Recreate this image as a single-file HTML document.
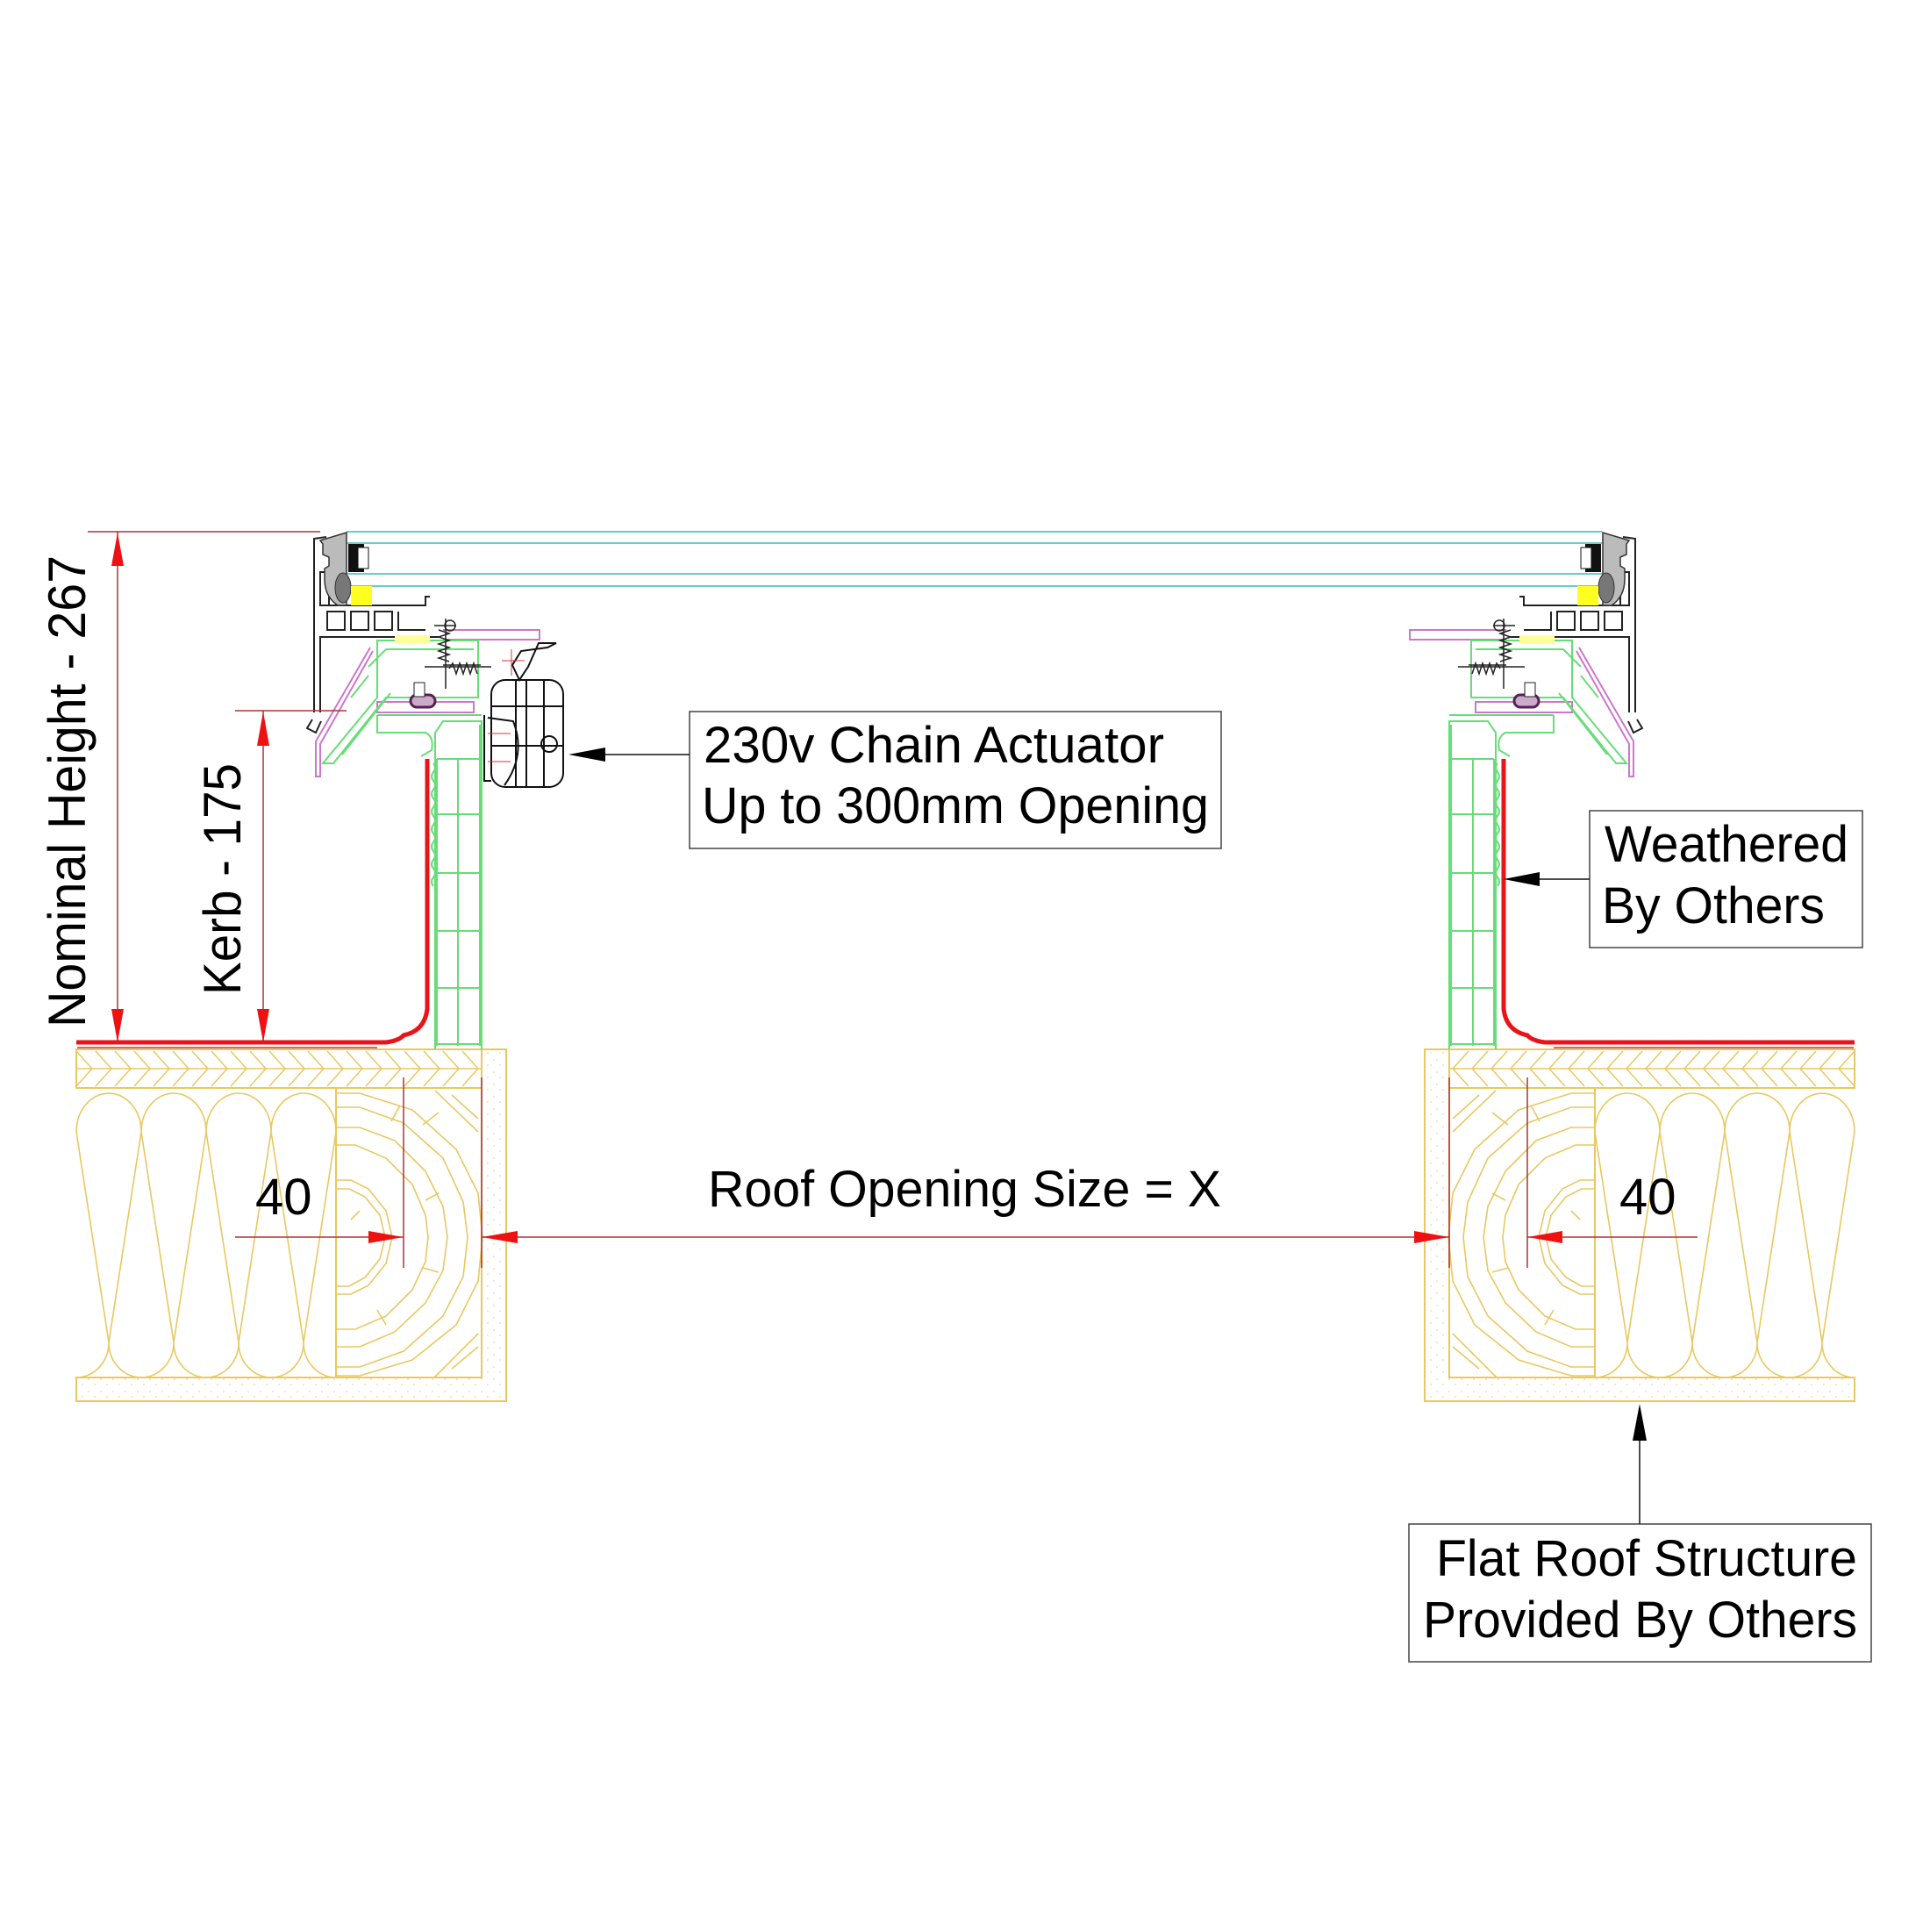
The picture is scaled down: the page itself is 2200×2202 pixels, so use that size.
<!DOCTYPE html>
<html><head><meta charset="utf-8"><style>html,body{margin:0;padding:0;background:#fff}svg{display:block}</style></head>
<body>
<svg width="2200" height="2202" viewBox="0 0 2200 2202" xmlns="http://www.w3.org/2000/svg" font-family="Liberation Sans, sans-serif">
<defs>
<pattern id="dots" width="14" height="14" patternUnits="userSpaceOnUse">
<circle cx="3" cy="4" r="0.8" fill="#e0cc88"/><circle cx="10" cy="10" r="0.8" fill="#e0cc88"/>
</pattern>
<g id="struct">
  <path d="M87 1570 H549 V1196 H577 V1597 H87 Z" fill="url(#dots)" stroke="#e8c860" stroke-width="2"/>
  <rect x="87" y="1196" width="462" height="44" fill="none" stroke="#e8c860" stroke-width="2"/>
  <line x1="87" y1="1218" x2="549" y2="1218" stroke="#e8c860" stroke-width="1.5"/>
  <path d="M87 1198 l18 20 l-18 20 M109 1198 l18 20 l-18 20 M131 1198 l18 20 l-18 20 M153 1198 l18 20 l-18 20 M175 1198 l18 20 l-18 20 M197 1198 l18 20 l-18 20 M219 1198 l18 20 l-18 20 M241 1198 l18 20 l-18 20 M263 1198 l18 20 l-18 20 M285 1198 l18 20 l-18 20 M307 1198 l18 20 l-18 20 M329 1198 l18 20 l-18 20 M351 1198 l18 20 l-18 20 M373 1198 l18 20 l-18 20 M395 1198 l18 20 l-18 20 M417 1198 l18 20 l-18 20 M439 1198 l18 20 l-18 20 M461 1198 l18 20 l-18 20 M483 1198 l18 20 l-18 20 M505 1198 l18 20 l-18 20 M527 1198 l18 20 l-18 20" fill="none" stroke="#e8c860" stroke-width="1.5"/>
  <rect x="383" y="1240" width="166" height="330" fill="none" stroke="#e8c860" stroke-width="2"/>
  <g fill="none" stroke="#e8c860" stroke-width="1.6">
    <path d="M383 1246 H410 L470 1265 L520 1310 L545 1360 L550 1410 L545 1460 L520 1510 L470 1550 L410 1568 H383"/>
    <path d="M383 1262 H410 L460 1280 L505 1320 L528 1370 L533 1410 L528 1455 L505 1500 L460 1540 L410 1558 H383"/>
    <path d="M383 1285 H410 L450 1300 L485 1335 L505 1375 L510 1410 L505 1448 L485 1485 L450 1518 L410 1535 H383"/>
    <path d="M383 1305 H405 L440 1320 L470 1350 L485 1385 L488 1410 L485 1438 L470 1470 L440 1500 L405 1515 H383"/>
    <path d="M383 1345 H400 L420 1355 L440 1380 L447 1410 L440 1440 L420 1465 L400 1475 H383"/>
    <path d="M383 1355 H398 L416 1364 L433 1385 L439 1410 L433 1435 L416 1456 L398 1466 H383"/>
    <path d="M496 1243 L545 1290 M515 1248 L545 1275 M495 1570 L545 1520 M515 1560 L545 1535"/>
    <path d="M446 1278 L456 1260 M482 1282 L500 1268 M400 1390 L410 1380 M430 1493 L440 1510 M482 1445 L500 1450 M485 1368 L500 1360"/>
  </g>
  <!-- insulation -->
  <g fill="none" stroke="#e8c860" stroke-width="1.6">
    <path d="M87 1290 A37 44 0 0 1 161 1290 A37 44 0 0 1 235 1290 A37 44 0 0 1 309 1290 A37 44 0 0 1 383 1290"/>
    <path d="M87 1570 A37 40 0 0 0 124 1530 A37 40 0 0 0 198 1530 A37 40 0 0 0 272 1530 A37 40 0 0 0 346 1530 A37 40 0 0 0 383 1570"/>
    <path d="M87 1290 L124 1530 L161 1290 L198 1530 L235 1290 L272 1530 L309 1290 L346 1530 L383 1290"/>
  </g>
  <!-- kerb -->
  <g fill="none" stroke="#66dd77" stroke-width="2">
    <path d="M496 1196 V835 L505 822 H549 V1196"/>
    <path d="M498 1192 V865 M547 1192 V826"/>
    <path d="M522 865 V1192"/>
    <path d="M498 865 H547 M498 928 H547 M498 995 H547 M498 1061 H547 M498 1126 H547 M498 1190 H547"/>
    <path d="M494 870 q4 5 0 10 q-4 5 0 10 q4 5 0 10 q-4 5 0 10 q4 5 0 10 q-4 5 0 10 q4 5 0 10 q-4 5 0 10 q4 5 0 10 q-4 5 0 10 q4 5 0 10 q-4 5 0 10 q4 5 0 10 q-4 5 0 10"/>
    <path d="M430 815 H549 M430 815 V835 H485 Q495 840 492 855 L480 862"/>
  </g>
  <path d="M87 1188 H440 Q455 1186 460 1180 Q484 1175 487 1150 V865" fill="none" stroke="#e8141a" stroke-width="5"/>
  <path d="M88 1194 H430" stroke="#b04040" stroke-width="1.5"/>
</g>
<g id="frame">
  <g fill="none" stroke="#222" stroke-width="2">
    <path d="M358 812 V614 L372 612 M365 812 V726 H500 M372 690 H485 V680 H490 M373 697 H393 V718 H373 Z M400 697 H420 V718 H400 Z M427 697 H447 V718 H427 Z M454 697 V718 H485"/>
    <path d="M356 820 L350 830 L360 835 L366 822"/>
    <path d="M365 652 H375 V690 H365 Z"/>
  </g>
  <path d="M365 616 L395 607 V690 H385 Q370 680 370 660 V648 L375 645 V635 L368 632 V620 Z" fill="#bbb" stroke="#333" stroke-width="1.5"/>
  <rect x="397" y="620" width="18" height="32" fill="#111"/>
  <rect x="408" y="624" width="12" height="24" fill="#fff" stroke="#111"/>
  <ellipse cx="391" cy="670" rx="9" ry="17" fill="#777" stroke="#333"/>
  <rect x="400" y="668" width="24" height="22" fill="#ffff22"/>
  <path d="M422 738 L360 845 V885 H365 V848 L425 742" fill="none" stroke="#cc77cc" stroke-width="2"/>
  <path d="M505 718 H615 V729 H505" fill="none" stroke="#cc77cc" stroke-width="2"/>
  <path d="M430 800 H540 V812 H430 Z" fill="none" stroke="#cc77cc" stroke-width="2"/>
  <g fill="none" stroke="#66dd77" stroke-width="2">
    <path d="M430 730 H545 V795 H440 L380 870 H368 L430 795 Z" />
    <path d="M440 740 H540 M390 860 L445 790 M400 795 L420 770 M420 760 L440 740"/>
  </g>
  <rect x="450" y="724" width="40" height="10" fill="#ffff99"/>
  <g stroke="#222" stroke-width="1.5" fill="none">
    <path d="M508 705 V785 M495 713 H520 M484 760 H560 M505 758 H548"/>
    <path d="M500 718 l12 4 l-12 4 l12 4 l-12 4 l12 4 l-12 4 l12 4 l-12 4 l12 4"/>
    <path d="M512 762 l4 -6 l4 12 l4 -12 l4 12 l4 -12 l4 12 l4 -12 l4 12"/>
    <circle cx="513" cy="713" r="6"/>
  </g>
  <rect x="468" y="792" width="28" height="14" rx="7" fill="#ccaacc" stroke="#552255" stroke-width="3"/>
  <rect x="472" y="778" width="12" height="16" fill="#fff" stroke="#222"/>
</g>
</defs>

<rect width="2200" height="2202" fill="#fff"/>

<g stroke="#66cccc" stroke-width="2">
  <line x1="395" y1="606" x2="1826" y2="606"/>
  <line x1="395" y1="619" x2="1826" y2="619"/>
  <line x1="395" y1="654" x2="1826" y2="654"/>
  <line x1="395" y1="668" x2="1826" y2="668"/>
</g>

<use href="#struct"/>
<use href="#struct" transform="translate(2201,0) scale(-1,1)"/>
<use href="#frame"/>
<use href="#frame" transform="translate(2222,0) scale(-1,1)"/>

<!-- actuator -->
<g fill="none" stroke="#111" stroke-width="2">
  <rect x="560" y="775" width="82" height="122" rx="16"/>
  <path d="M560 805 H642 M560 850 H642 M600 775 V897 M588 775 V897 M620 775 V897"/>
  <path d="M556 818 L585 822 Q600 860 575 895 M552 815 V890 H560"/>
  <circle cx="626" cy="848" r="9"/>
  <path d="M592 775 L584 758 L594 742 L624 738 L634 733 H614 L602 760 Z"/>
</g>
<path d="M572 753 H598 M583 740 V770 M556 836 H582 M556 868 H582" stroke="#dd3333" stroke-width="1"/>

<g stroke="#b03030" stroke-width="1.5">
  <line x1="100" y1="606" x2="365" y2="606"/>
  <line x1="134" y1="606" x2="134" y2="1190"/>
  <line x1="268" y1="810" x2="395" y2="810"/>
  <line x1="300" y1="810" x2="300" y2="1190"/>
</g>
<g fill="#ee1111">
  <path d="M134 607 L127 645 H141 Z"/><path d="M134 1188 L127 1150 H141 Z"/>
  <path d="M300 811 L293 850 H307 Z"/><path d="M300 1188 L293 1150 H307 Z"/>
</g>
<text transform="translate(97,1171) rotate(-90)" font-size="60" textLength="538" lengthAdjust="spacingAndGlyphs" fill="#000">Nominal Height - 267</text>
<text transform="translate(274,1134) rotate(-90)" font-size="60" textLength="264" lengthAdjust="spacingAndGlyphs" fill="#000">Kerb - 175</text>

<g stroke="#b03030" stroke-width="1.5">
  <line x1="549" y1="1410" x2="1652" y2="1410"/>
  <line x1="268" y1="1410" x2="460" y2="1410"/>
  <line x1="1741" y1="1410" x2="1935" y2="1410"/>
  <line x1="460" y1="1228" x2="460" y2="1445"/>
  <line x1="549" y1="1228" x2="549" y2="1445"/>
  <line x1="1652" y1="1228" x2="1652" y2="1445"/>
  <line x1="1741" y1="1228" x2="1741" y2="1445"/>
</g>
<g fill="#ee1111">
  <path d="M460 1410 L420 1403 V1417 Z"/>
  <path d="M549 1410 L590 1403 V1417 Z"/>
  <path d="M1652 1410 L1612 1403 V1417 Z"/>
  <path d="M1741 1410 L1781 1403 V1417 Z"/>
</g>
<text x="807" y="1375" font-size="58" textLength="585" lengthAdjust="spacingAndGlyphs">Roof Opening Size = X</text>
<text x="291" y="1384" font-size="58">40</text>
<text x="1846" y="1384" font-size="58">40</text>

<rect x="786" y="811" width="606" height="156" fill="none" stroke="#444" stroke-width="1.5"/>
<text x="802" y="869" font-size="58" textLength="525" lengthAdjust="spacingAndGlyphs">230v Chain Actuator</text>
<text x="800" y="938" font-size="58" textLength="578" lengthAdjust="spacingAndGlyphs">Up to 300mm Opening</text>
<line x1="786" y1="860" x2="690" y2="860" stroke="#111" stroke-width="1.5"/>
<path d="M648 860 L690 852 V868 Z" fill="#000"/>

<rect x="1812" y="924" width="311" height="156" fill="none" stroke="#444" stroke-width="1.5"/>
<text x="1829" y="982" font-size="58" textLength="278" lengthAdjust="spacingAndGlyphs">Weathered</text>
<text x="1826" y="1052" font-size="58" textLength="254" lengthAdjust="spacingAndGlyphs">By Others</text>
<line x1="1812" y1="1002" x2="1750" y2="1002" stroke="#111" stroke-width="1.5"/>
<path d="M1714 1002 L1755 994 V1010 Z" fill="#000"/>

<rect x="1606" y="1737" width="527" height="157" fill="none" stroke="#444" stroke-width="1.5"/>
<text x="1637" y="1796" font-size="58" textLength="480" lengthAdjust="spacingAndGlyphs">Flat Roof Structure</text>
<text x="1622" y="1866" font-size="58" textLength="495" lengthAdjust="spacingAndGlyphs">Provided By Others</text>
<line x1="1869" y1="1737" x2="1869" y2="1640" stroke="#111" stroke-width="1.5"/>
<path d="M1869 1600 L1861 1642 H1877 Z" fill="#000"/>
</svg>
</body></html>
